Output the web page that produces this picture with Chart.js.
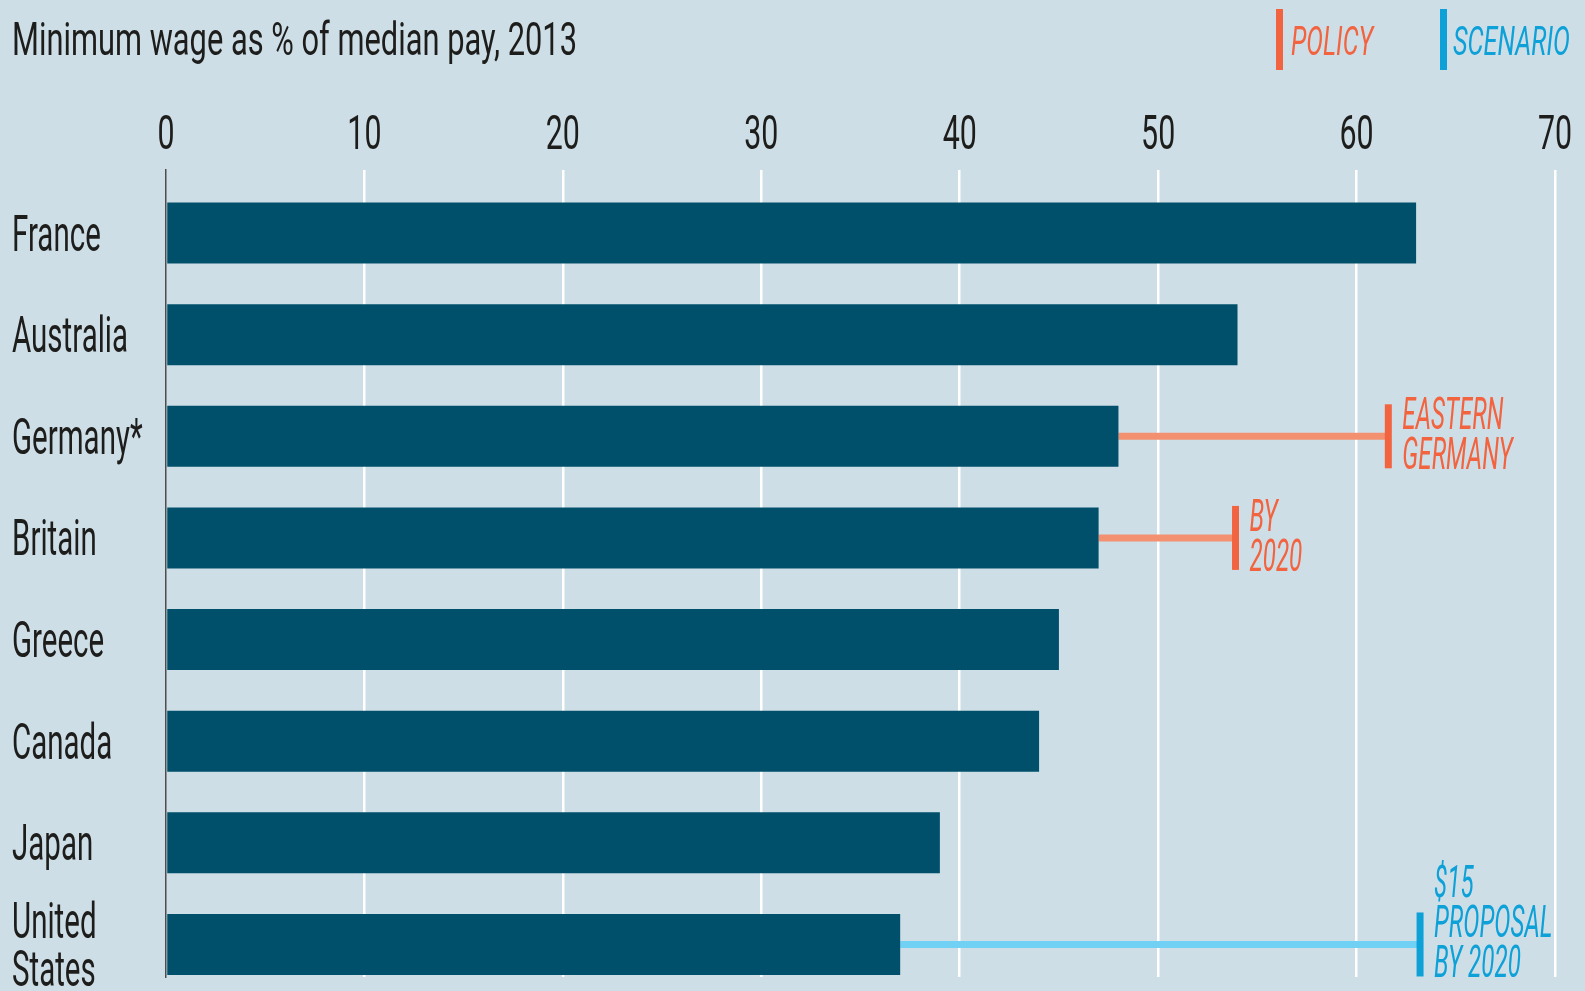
<!DOCTYPE html>
<html>
<head>
<meta charset="utf-8">
<script src="https://cdn.jsdelivr.net/npm/chart.js@4.4.0/dist/chart.umd.min.js"></script>
<style>
  html, body { margin: 0; padding: 0; background: #cedee7; overflow: hidden; }
  #chart { display: block; }
</style>
</head>
<body>
<canvas id="chart" width="1585" height="991"></canvas>
<script>
// data
var countries = ['France', 'Australia', 'Germany*', 'Britain', 'Greece', 'Canada', 'Japan', ['United', 'States']];
var wage2013 = [63, 54, 48, 47, 45, 44, 39, 37];

var policyRows = [2, 3];
var policyValues = [61.6, 53.9];
var policyNotes = [['EASTERN', 'GERMANY'], ['BY', '2020']];

var scenarioRows = [7];
var scenarioValues = [63.2];
var scenarioNotes = [['$15', 'PROPOSAL', 'BY 2020']];

var xMin = 0, xMax = 70, xStep = 10;

var titleText = 'Minimum wage as % of median pay, 2013';
var legendItems = ['POLICY', 'SCENARIO'];

var FONT = "Roboto, 'DejaVu Sans', sans-serif";
var DARK = '#1d1d1b';
var BAR = '#01506b';
var ORANGE = '#f26440';
var ORANGE_LIGHT = '#f2906f';
var BLUE = '#0ea1d8';
var BLUE_LIGHT = '#70d1f5';

// helper: condensed look for drawn text
function squish(ctx, text, x, y, sx) {
  ctx.save();
  ctx.translate(x, y);
  ctx.scale(sx, 1);
  ctx.fillText(text, 0, 0);
  ctx.restore();
}

// the axis labels are drawn by Chart.js, only narrowed
function condenseLabels(scale, sx) {
  if (scale._condensed) return;
  scale._condensed = true;
  var drawLabels = scale.drawLabels;
  scale.drawLabels = function (area) {
    var ctx = this.ctx;
    var fill = ctx.fillText;
    ctx.fillText = function (text, x, y) {
      ctx.save();
      ctx.translate(x, y);
      ctx.scale(sx, 1);
      fill.call(ctx, text, 0, 0);
      ctx.restore();
    };
    drawLabels.call(this, area);
    delete ctx.fillText;
  };
}

function rangeBars(rows, values) {
  var out = [];
  for (var i = 0; i < rows.length; i++) {
    out.push({ x: [wage2013[rows[i]], values[i]], y: rows[i] });
  }
  return out;
}

function endPoints(rows, values) {
  var out = [];
  for (var i = 0; i < rows.length; i++) {
    out.push({ x: values[i], y: rows[i] });
  }
  return out;
}

// title + legend on top
var headerPlugin = {
  id: 'header',
  beforeDraw: function (chart) {
    condenseLabels(chart.scales.x, 0.62);
    condenseLabels(chart.scales.y, 0.59);
  },
  afterDraw: function (chart) {
    var ctx = chart.ctx;
    ctx.save();
    ctx.textBaseline = 'alphabetic';
    ctx.textAlign = 'left';
    ctx.fillStyle = DARK;
    ctx.font = '46px ' + FONT;
    var w = ctx.measureText(titleText).width;
    squish(ctx, titleText, 12, 55, 565 / w);

    ctx.font = 'italic 40px ' + FONT;
    ctx.fillStyle = ORANGE;
    ctx.fillRect(1276, 9, 7, 61);
    w = ctx.measureText(legendItems[0]).width;
    squish(ctx, legendItems[0], 1291, 55, 82 / w);

    ctx.fillStyle = BLUE;
    ctx.fillRect(1440, 9, 7, 61);
    w = ctx.measureText(legendItems[1]).width;
    squish(ctx, legendItems[1], 1453, 55, 117 / w);
    ctx.restore();
  }
};

// notes next to the end ticks
var notesPlugin = {
  id: 'notes',
  afterDatasetsDraw: function (chart) {
    var ctx = chart.ctx;
    var xs = chart.scales.x, ys = chart.scales.y;
    ctx.save();
    ctx.font = 'italic 44px ' + FONT;
    ctx.textBaseline = 'alphabetic';
    ctx.textAlign = 'left';

    function draw(rows, values, notes, color) {
      ctx.fillStyle = color;
      for (var i = 0; i < rows.length; i++) {
        var px = xs.getPixelForValue(values[i]) + 14;
        var py = ys.getPixelForValue(rows[i]) + 33;
        var lines = notes[i];
        for (var j = 0; j < lines.length; j++) {
          squish(ctx, lines[j], px, py - (lines.length - 1 - j) * 40, 0.55);
        }
      }
    }
    draw(policyRows, policyValues, policyNotes, ORANGE);
    draw(scenarioRows, scenarioValues, scenarioNotes, BLUE);
    ctx.restore();
  }
};

var chart = new Chart(document.getElementById('chart'), {
  data: {
    datasets: [
      {
        type: 'bar',
        indexAxis: 'y',
        order: 1,
        data: wage2013.map(function (v, i) { return { x: v, y: i }; }),
        backgroundColor: BAR,
        grouped: false,
        categoryPercentage: 0.6,
        barPercentage: 1
      },
      {
        type: 'bar',
        indexAxis: 'y',
        order: 2,
        data: rangeBars(policyRows, policyValues),
        backgroundColor: ORANGE_LIGHT,
        grouped: false,
        maxBarThickness: 7
      },
      {
        type: 'bar',
        indexAxis: 'y',
        order: 2,
        data: rangeBars(scenarioRows, scenarioValues),
        backgroundColor: BLUE_LIGHT,
        grouped: false,
        maxBarThickness: 7
      },
      {
        type: 'scatter',
        order: 0,
        data: endPoints(policyRows, policyValues),
        pointStyle: 'line',
        pointRotation: 90,
        pointRadius: 32,
        pointHoverRadius: 32,
        pointBorderWidth: 7,
        pointBorderColor: ORANGE,
        borderColor: ORANGE
      },
      {
        type: 'scatter',
        order: 0,
        data: endPoints(scenarioRows, scenarioValues),
        pointStyle: 'line',
        pointRotation: 90,
        pointRadius: 32,
        pointHoverRadius: 32,
        pointBorderWidth: 7,
        pointBorderColor: BLUE,
        borderColor: BLUE
      }
    ]
  },
  options: {
    responsive: false,
    animation: false,
    devicePixelRatio: 1,
    layout: { autoPadding: false, padding: { left: 12, top: 80, right: 30, bottom: 14 } },
    plugins: {
      legend: { display: false },
      tooltip: { enabled: false }
    },
    scales: {
      x: {
        type: 'linear',
        position: 'top',
        min: xMin,
        max: xMax,
        offset: false,
        ticks: {
          stepSize: xStep,
          padding: 4,
          color: DARK,
          font: { family: FONT, size: 49 }
        },
        grid: {
          drawTicks: false,
          lineWidth: 2.5,
          color: function (c) { return c.tick && c.tick.value === 0 ? 'rgba(0,0,0,0)' : '#ffffff'; }
        },
        border: { display: false },
        afterFit: function (s) {
          s.height = 90;
          s.paddingLeft = 0;
          s.paddingRight = 0;
        }
      },
      y: {
        type: 'linear',
        reverse: true,
        offset: false,
        min: -0.62,
        max: 7.32,
        afterBuildTicks: function (s) {
          s.ticks = countries.map(function (c, i) { return { value: i }; });
        },
        ticks: {
          crossAlign: 'far',
          labelOffset: 5,
          color: DARK,
          font: { family: FONT, size: 50, lineHeight: 0.96 },
          callback: function (v) { return countries[v]; }
        },
        grid: { display: false, drawTicks: false, offset: false },
        border: { display: true, color: '#4d4d4d', width: 1.5 },
        afterFit: function (s) {
          s.width = 154;
          s.paddingTop = 0;
          s.paddingBottom = 0;
        }
      }
    }
  },
  plugins: [headerPlugin, notesPlugin]
});
</script>
</body>
</html>
